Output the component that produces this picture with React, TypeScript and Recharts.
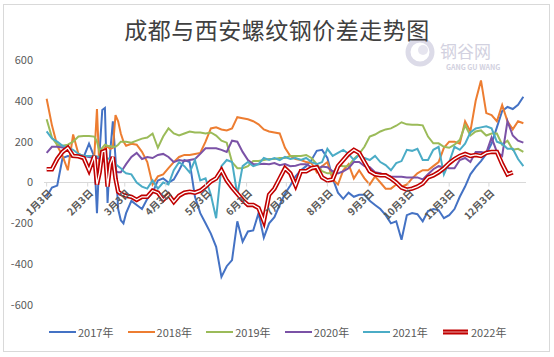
import React from 'react';
import { LineChart, Line, XAxis, YAxis, ReferenceLine, Legend } from 'recharts';

// day-of-year sample points
const DAYS = [
  3, 7, 11, 15, 19, 23, 27, 31, 35,
  39, 41, 43, 45, 47, 49, 51, 53, 55, 57, 59, 61, 63,
  67, 71, 75, 79, 83, 87, 91, 95, 99, 103,
  107, 111, 115, 119, 123, 127, 131, 135, 139, 143,
  147, 151, 155, 159, 163, 167, 171, 175, 179, 183,
  187, 191, 195, 199, 203, 207, 211, 215, 219, 223,
  227, 231, 235, 239, 243, 247, 251, 255, 259, 263,
  267, 271, 275, 279, 283, 287, 291, 295, 299, 303,
  307, 311, 315, 319, 323, 327, 331, 335, 339, 343,
  347, 351, 355, 359, 363,
];

const V2017 = [
  -70, -25, -15, 120, 130, 125, 130, 125, 190,
  125, -150, 150, 355, 365, -100, 150, 300, 120, -130, -185, -200, -150,
  -90, -110, -130, -80, -50, 10, 20, 0, 15, 60,
  110, 100, -70, -150, -200, -250, -315, -462, -410, -380,
  -190, -290, -240, -235, -150, -270, -200, -170, -110, -55,
  -15, 30, 60, 80, 110, 155, 160, 120, 20, -50,
  -80, -50, -70, -60, -60, -90, -110, -130, -160, -200,
  -190, -280, -160, -150, -155, -190, -140, -130, -135, -175,
  -160, -130, -70, -20, 40, 75, 105, 140, 190, 270,
  350, 370, 360, 380, 420,
];

const V2018 = [
  410, 280, 180, 130, 60, 235, 140, 130, 130,
  130, 360, 40, 150, 170, 175, 165, 170, 330, 300, 240, 200, 180,
  190, 185, 150, 100, -10, 30, 40, 70, 100, 125,
  135, 135, 140, 145, 200, 265, 270, 260, 255, 265,
  320, 315, 310, 300, 285, 260, 250, 245, 240, 170,
  130, 115, 110, 100, 95, 50, 80, 100, 15, -10,
  60, 90, 20, 60, 20, -10, 30, 0, -30, -30,
  -10, -20, -10, 20, 45, 60, 60, 80, 100, 170,
  200, 200, 190, 300, 250, 400, 500, 340, 330, 300,
  380, 300, 260, 300, 290,
];

const V2019 = [
  310, 220, 185, 180, 185, 200, 225, 228, 228,
  225, 200, 150, 170, 185, 180, 178, 175, 175, 185, 200, 200, 200,
  195, 205, 215, 220, 240, 170, 225, 265, 240, 230,
  240, 250, 245, 245, 240, 245, 230, 205, 195, 100,
  70, 70, 80, 105, 105, 110, 115, 115, 120, 120,
  130, 130, 130, 135, 120, 90, 55, 45, 45, 85,
  80, 80, 115, 140, 175, 225, 235, 250, 260, 265,
  278, 295, 285, 283, 283, 280, 225, 192, 192, 175,
  170, 185, 209, 280, 230, 250, 255, 230, 240, 240,
  185, 205, 160, 165, 150,
];

const V2020 = [
  145, 175, 175, 172, 160, 135, 130, 130, 125,
  120, 120, 118, 110, 100, 90, 80, 65, 55, 50, 50, 70, 90,
  125, 145, 115, 125, 120, 135, 140, 125, 100, 110,
  105, 110, 115, 140, 168, 168, 168, 160, 150, 205,
  200, 150, 110, 90, 90, 92, 90, 95, 85, 90,
  80, 82, 90, 90, 75, 65, 78, 75, 55, 45,
  55, 70, 100, 100, 80, 75, 50, 45, 35, 30,
  28, 28, 25, 25, 25, 15, 40, 65, 80, 75,
  70, 70, 110, 120, 100, 150, 150, 145, 220, 150,
  130, 300, 230, 205, 195,
];

const V2021 = [
  250, 215, 200, 180, 170, 160, 140, 130, 130,
  130, 128, 125, 122, 120, 118, 115, 100, 90, 80, 70, 55, 45,
  40, 0, -20, -30, 10, -30, 0, -10, 60, 100,
  80, 50, 110, 10, 20, -60, -175, 80, 110, 100,
  -60, 80, 100, 80, 90, 120, 110, 120, 110, 125,
  115, 120, 110, 120, 100, 90, 100, 165, 130, 145,
  160, 140, 110, 135, 120, 110, 130, 100, 85, 60,
  95, 105, 160, 155, 165, 110, 110, 160, 175, 40,
  100, 175, 160, 190, 245, 265, 270, 275, 265, 200,
  190, 165, 165, 115, 80,
];

const V2022 = [
  65, 65, 115, 150, 170, 130, 128, 120, 60,
  130, -10, 50, 150, 155, -20, 90, 125, 20, -45, -55, -60, -65,
  -70, -85, -70, -70, -40, -50, -85, -60, -95, -65,
  -50, -45, -50, -40, -20, 5, 20, 60, 10, -25,
  -55, -86, -110, -110, -125, -190, -60, -30, 20, 70,
  45, -15, 55, 55, 70, 75, 25, 10, 15, 80,
  110, 140, 160, 145, 100, 55, 40, 35, 35, 20,
  0, -25, -35, -30, -20, -5, 25, 35, 50, 70,
  95, 115, 130, 140, 130, 135, 130, 145, 150, 150,
  90, 40, 50, null, null,
];

const MONTH_TICKS = [3, 34, 62, 93, 123, 154, 184, 215, 246, 276, 307, 337];
const MONTH_LABELS = ['1月3日', '2月3日', '3月3日', '4月3日', '5月3日', '6月3日', '7月3日', '8月3日', '9月3日', '10月3日', '11月3日', '12月3日'];
const Y_TICKS = [-600, -400, -200, 0, 200, 400, 600];
const Y_MIN = -600;
const Y_MAX = 600;

const SERIES = [
  { key: 'y2017', name: '2017年', color: '#4472C4', values: V2017 },
  { key: 'y2018', name: '2018年', color: '#ED7D31', values: V2018 },
  { key: 'y2019', name: '2019年', color: '#9BBB59', values: V2019 },
  { key: 'y2020', name: '2020年', color: '#7B52A6', values: V2020 },
  { key: 'y2021', name: '2021年', color: '#4BACC6', values: V2021 },
  { key: 'y2022', name: '2022年', color: '#C00000', values: V2022, double: true },
];

const DATA = DAYS.map((day, i) => {
  const row: Record<string, number | null> = { day };
  SERIES.forEach((s) => {
    row[s.key] = s.values[i] ?? null;
  });
  return row;
});

const W = 554;
const H = 357;
const MARGIN = { top: 60, right: 28, bottom: 51, left: 0 };
const Y_AXIS_W = 44;
const X_AXIS_H = 1;
const PLOT_H = H - MARGIN.top - MARGIN.bottom - X_AXIS_H;
const ZERO_Y = MARGIN.top + (PLOT_H * Y_MAX) / (Y_MAX - Y_MIN);

const FONT = '"Noto Sans CJK SC", "Noto Sans", sans-serif';
const TEXT = '#595959';

const XTick = (props: any) => {
  const { x, payload } = props;
  const idx = MONTH_TICKS.indexOf(payload.value);
  const label = idx >= 0 ? MONTH_LABELS[idx] : '';
  const ax = x + 3;
  const ay = ZERO_Y + 8;
  return (
    <g>
      <line x1={x} x2={x} y1={ZERO_Y} y2={ZERO_Y + 4} stroke="#d9d9d9" strokeWidth={1} />
      <text
        x={ax}
        y={ay}
        transform={`rotate(-45 ${ax} ${ay})`}
        textAnchor="end"
        dominantBaseline="central"
        fontSize={10}
        fontWeight="bold"
        fontFamily={FONT}
        fill={TEXT}
      >
        {label}
      </text>
    </g>
  );
};

const LegendContent = () => (
  <div style={{ display: 'flex', paddingLeft: 49, fontFamily: FONT, fontSize: 11, color: TEXT, lineHeight: '16px' }}>
    {SERIES.map((s) => (
      <div key={s.key} style={{ width: 78.6, display: 'flex', alignItems: 'center' }}>
        <svg width={27} height={8} style={{ display: 'block' }}>
          {s.double ? (
            <>
              <line x1={1} x2={26} y1={4} y2={4} stroke={s.color} strokeWidth={5} />
              <line x1={1} x2={26} y1={4} y2={4} stroke="#ffffff" strokeWidth={1.2} strokeOpacity={0.55} />
            </>
          ) : (
            <line x1={0} x2={27} y1={4} y2={4} stroke={s.color} strokeWidth={2} />
          )}
        </svg>
        <span style={{ marginLeft: 2 }}>{s.name}</span>
      </div>
    ))}
  </div>
);

export default function App() {
  return (
    <div style={{ position: 'absolute', left: 0, top: 0, width: W, height: H, background: '#ffffff', overflow: 'hidden' }}>
      <div
        style={{
          position: 'absolute',
          left: 3,
          top: 4,
          width: 547,
          height: 348,
          border: '1px solid #d9d9d9',
          boxSizing: 'border-box',
        }}
      />
      {/* watermark */}
      <svg width={W} height={H} style={{ position: 'absolute', left: 0, top: 0 }}>
        <circle cx={420} cy={52} r={12} fill="none" stroke="#dcdbe8" strokeWidth={5} />
        <circle cx={423} cy={50} r={5} fill="#e6e5ef" />
        <text x={440} y={50} fontSize={17} fontFamily={FONT} fill="#d2d1e0" dominantBaseline="central">
          钢谷网
        </text>
        <text x={446} y={67} fontSize={7} fontWeight="bold" fontFamily={FONT} fill="#d2d1e0" dominantBaseline="central">
          GANG GU WANG
        </text>
      </svg>
      <div
        style={{
          position: 'absolute',
          left: 0,
          top: 18,
          width: W,
          textAlign: 'center',
          fontFamily: FONT,
          fontSize: 23,
          lineHeight: '23px',
          color: '#404040',
          letterSpacing: 0.5,
        }}
      >
        成都与西安螺纹钢价差走势图
      </div>
      <div style={{ position: 'absolute', left: 0, top: 0 }}>
        <LineChart width={W} height={H} data={DATA} margin={MARGIN}>
          <XAxis
            type="number"
            dataKey="day"
            domain={[1, 365]}
            ticks={MONTH_TICKS}
            interval={0}
            axisLine={false}
            tickLine={false}
            height={X_AXIS_H}
            tick={(p: any) => <XTick {...p} />}
          />
          <YAxis
            type="number"
            domain={[Y_MIN, Y_MAX]}
            ticks={Y_TICKS}
            interval={0}
            width={Y_AXIS_W}
            axisLine={false}
            tickLine={false}
            tickSize={0}
            tickMargin={11}
            tick={{ fill: TEXT, fontSize: 11, fontFamily: FONT }}
          />
          <ReferenceLine y={0} stroke="#d9d9d9" strokeWidth={1} ifOverflow="extendDomain" />
          {SERIES.filter((s) => !s.double).map((s) => (
            <Line
              key={s.key}
              type="linear"
              dataKey={s.key}
              name={s.name}
              stroke={s.color}
              strokeWidth={2}
              dot={false}
              activeDot={false}
              isAnimationActive={false}
            />
          ))}
          {SERIES.filter((s) => s.double).map((s) => (
            <Line
              key={s.key}
              type="linear"
              dataKey={s.key}
              name={s.name}
              stroke={s.color}
              strokeWidth={4.5}
              dot={false}
              activeDot={false}
              isAnimationActive={false}
            />
          ))}
          {SERIES.filter((s) => s.double).map((s) => (
            <Line
              key={s.key + '_inner'}
              type="linear"
              dataKey={s.key}
              stroke="#ffffff"
              strokeWidth={1.3}
              dot={false}
              activeDot={false}
              legendType="none"
              isAnimationActive={false}
            />
          ))}
          <Legend
            layout="horizontal"
            verticalAlign="middle"
            align="center"
            content={() => <LegendContent />}
            wrapperStyle={{ top: 324, left: 0, width: W, height: 16 }}
          />
        </LineChart>
      </div>
    </div>
  );
}
